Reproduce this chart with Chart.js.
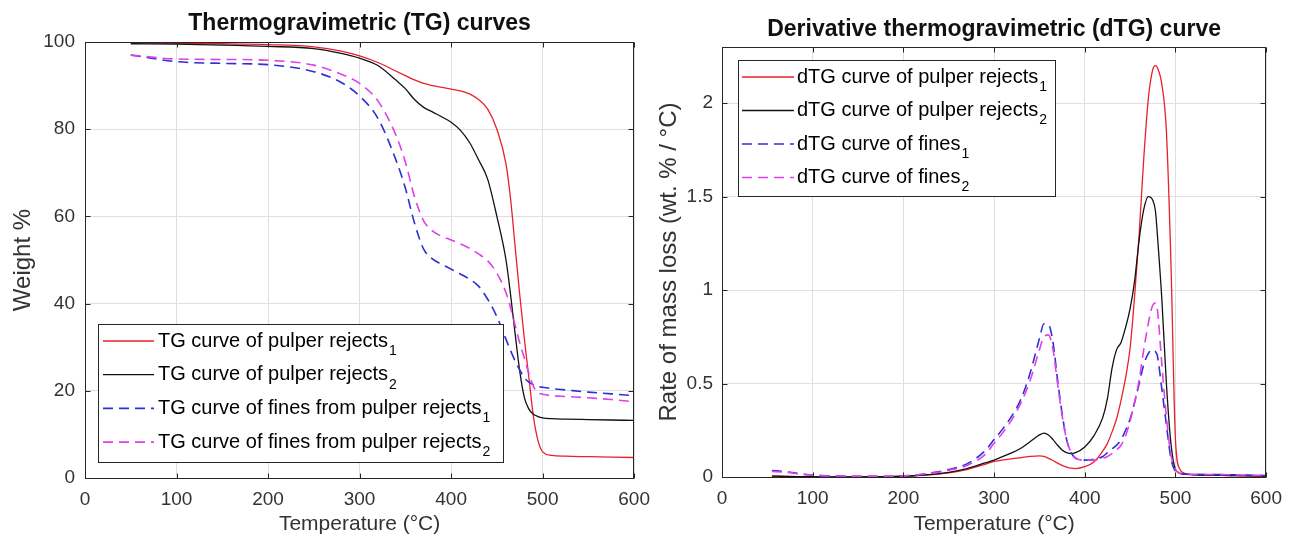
<!DOCTYPE html>
<html><head><meta charset="utf-8">
<script src="https://cdn.jsdelivr.net/npm/chart.js@4.4.1/dist/chart.umd.min.js"></script>
<style>
html,body{margin:0;padding:0;background:#fff;width:1292px;height:537px;overflow:hidden}
canvas{position:absolute;top:0}
#tg{left:0}
#dtg{left:646px}
</style></head><body>
<canvas id="tg" width="660" height="537"></canvas>
<canvas id="dtg" width="646" height="537"></canvas>
<script>
// ---------- TG data (Weight %) ----------
const tempTG = [50,100,150,200,250,280,300,320,340,350,360,370,380,390,400,410,420,430,440,450,460,465,470,475,480,485,490,495,500,510,525,550,575,600];
const tgRejects1 = [99.8,99.7,99.6,99.4,98.9,97.9,96.8,95.3,93.3,92.3,91.3,90.5,90.0,89.6,89.2,88.8,88.1,86.8,84.6,80.0,72.0,64.0,53.0,42.0,32.0,23.0,14.0,8.5,6.0,5.2,5.0,4.9,4.8,4.7];
const tgRejects2 = [99.6,99.5,99.3,99.0,98.5,97.4,96.3,94.6,91.2,89.3,86.8,85.0,83.9,82.8,81.6,79.8,77.0,73.0,68.5,60.0,50.0,42.0,33.0,24.5,18.5,15.8,14.6,14.1,13.8,13.6,13.5,13.4,13.3,13.2];
const tgFines1   = [97.0,95.5,95.1,94.8,93.2,90.7,87.6,82.5,72.8,66.5,58.5,52.5,50.2,49.0,47.9,46.8,45.6,44.0,41.0,37.0,31.8,29.2,26.8,24.8,23.0,22.0,21.4,21.0,20.8,20.5,20.2,19.7,19.3,18.9];
const tgFines2   = [97.0,96.1,96.0,95.8,94.7,92.6,90.5,86.5,78.5,72.5,64.5,59.0,56.6,55.4,54.6,53.7,52.7,51.4,49.8,47.0,42.5,39.0,35.0,31.0,27.5,24.0,21.0,19.6,19.2,18.9,18.7,18.4,18.0,17.5];

// ---------- dTG data (wt. % / °C) ----------
const tempDTG = [55,70,90,110,130,150,175,200,225,250,270,290,300,310,320,330,340,350,355,360,365,370,375,380,385,390,400,410,420,425,430,435,440,445,450,455,460,465,470,475,478,480,485,490,495,500,505,510,520,540,560,580,600];
const dtgRejects1 = [0.005,0.003,0.002,0.001,0.001,0.001,0.002,0.004,0.01,0.022, 0.04,0.068,0.083,0.092,0.098,0.104,0.11,0.113,0.11,0.1, 0.088,0.074,0.062,0.053,0.047,0.045,0.055,0.08,0.14,0.18, 0.24,0.31,0.41,0.53,0.69,0.97,1.3,1.7,2.02,2.18, 2.2,2.19,2.1,1.85,1.15,0.2,0.04,0.02,0.012,0.01, 0.008,0.006,0.005];
const dtgRejects2 = [0.005,0.003,0.002,0.001,0.001,0.001,0.002,0.004,0.012,0.025, 0.045,0.075,0.09,0.11,0.13,0.155,0.19,0.225,0.235,0.225, 0.2,0.17,0.145,0.13,0.125,0.13,0.16,0.22,0.32,0.42, 0.58,0.68,0.72,0.8,0.9,1.05,1.27,1.43,1.5,1.48, 1.42,1.3,0.95,0.5,0.18,0.04,0.02,0.015,0.012,0.01, 0.008,0.006,0.005];
const dtgFines1 = [0.035,0.028,0.015,0.008,0.005,0.004,0.004,0.006,0.018,0.04, 0.07,0.14,0.2,0.26,0.33,0.42,0.56,0.74,0.82,0.815, 0.72,0.52,0.34,0.2,0.13,0.1,0.09,0.095,0.11,0.13, 0.15,0.17,0.2,0.25,0.31,0.4,0.5,0.6,0.66,0.68, 0.67,0.65,0.47,0.28,0.1,0.03,0.018,0.015,0.014,0.013, 0.012,0.01,0.008];
const dtgFines2 = [0.03,0.025,0.014,0.007,0.005,0.004,0.004,0.006,0.016,0.036, 0.062,0.12,0.18,0.24,0.31,0.4,0.52,0.68,0.75,0.76, 0.68,0.5,0.33,0.2,0.13,0.1,0.09,0.09,0.1,0.11, 0.125,0.145,0.17,0.22,0.3,0.4,0.52,0.68,0.82,0.92, 0.93,0.9,0.6,0.32,0.12,0.04,0.02,0.016,0.014,0.013, 0.012,0.01,0.008];

// ---------- labels ----------
const tgTitle = 'Thermogravimetric (TG) curves';
const dtgTitle = 'Derivative thermogravimetric (dTG) curve';
const xTitle = 'Temperature (°C)';
const tgYTitle = 'Weight %';
const dtgYTitle = 'Rate of mass loss (wt. % / °C)';
const tgLabels = ['TG curve of pulper rejects','TG curve of pulper rejects','TG curve of fines from pulper rejects','TG curve of fines from pulper rejects'];
const dtgLabels = ['dTG curve of pulper rejects','dTG curve of pulper rejects','dTG curve of fines','dTG curve of fines'];
const labelSubs = ['1','2','1','2'];

const FONT = "'Liberation Sans', Arial, Helvetica, sans-serif";
const COLORS = ['#e8202a','#111111','#2f2fd6','#e040e8'];
const DASHED = [false,false,true,true];

function makeDatasets(labels, temps, seriesList) {
  return seriesList.map((vals, i) => ({
    label: labels[i] + labelSubs[i],
    data: temps.map((t, k) => ({x: t, y: vals[k]})),
    borderColor: COLORS[i],
    backgroundColor: COLORS[i],
    borderWidth: DASHED[i] ? 1.6 : 1.3,
    borderDash: DASHED[i] ? [10, 6] : [],
    pointRadius: 0,
    fill: false,
    cubicInterpolationMode: 'monotone',
    order: 4 - i
  }));
}

const boxLegend = {
  id: 'boxLegend',
  afterDatasetsDraw(chart, args, o) {
    if (!o || !o.labels) return;
    const ctx = chart.ctx;
    ctx.save();
    ctx.fillStyle = '#fff';
    ctx.fillRect(o.left, o.top, o.width, o.height);
    ctx.strokeStyle = '#262626'; ctx.lineWidth = 1;
    ctx.strokeRect(o.left + 0.5, o.top + 0.5, o.width - 1, o.height - 1);
    chart.data.datasets.forEach((ds, i) => {
      const cy = o.firstRow + i * o.rowGap;
      ctx.strokeStyle = ds.borderColor; ctx.lineWidth = ds.borderWidth;
      ctx.setLineDash(ds.borderDash || []);
      ctx.beginPath(); ctx.moveTo(o.sampleX, cy); ctx.lineTo(o.sampleX + o.sampleLen, cy); ctx.stroke();
      ctx.setLineDash([]);
      ctx.fillStyle = '#000'; ctx.textBaseline = 'middle'; ctx.textAlign = 'left';
      ctx.font = '20px ' + FONT;
      const tx = o.sampleX + o.sampleLen + o.textGap;
      ctx.fillText(o.labels[i], tx, cy);
      const w = ctx.measureText(o.labels[i]).width;
      ctx.font = '14px ' + FONT;
      ctx.fillText(labelSubs[i], tx + w + 1, cy + 10);
    });
    ctx.restore();
  }
};

const frame = {
  id: 'frame',
  afterDraw(chart) {
    const {ctx, chartArea: a} = chart;
    const xs = chart.scales.x, ys = chart.scales.y;
    ctx.save(); ctx.strokeStyle = '#262626'; ctx.lineWidth = 1; ctx.setLineDash([]);
    const L = Math.round(a.left) + 0.5, R = Math.round(a.right) - 0.5, T = Math.round(a.top) + 0.5, B = Math.round(a.bottom) + 0.5;
    ctx.strokeRect(L, T, R - L, B - T);
    ctx.beginPath();
    xs.ticks.forEach(t => { const p = Math.round(xs.getPixelForValue(t.value)) + 0.5; ctx.moveTo(p, B); ctx.lineTo(p, B - 5); ctx.moveTo(p, T); ctx.lineTo(p, T + 5); });
    ys.ticks.forEach(t => { const p = Math.round(ys.getPixelForValue(t.value)) + 0.5; ctx.moveTo(L, p); ctx.lineTo(L + 5, p); ctx.moveTo(R, p); ctx.lineTo(R - 5, p); });
    ctx.stroke(); ctx.restore();
  }
};

function makeChart(id, cfg) {
  return new Chart(document.getElementById(id), {
    type: 'line',
    data: {datasets: cfg.datasets},
    plugins: [boxLegend, frame],
    options: {
      responsive: false, animation: false, devicePixelRatio: 1,
      layout: {padding: {left: 0, top: 0, right: cfg.padRight, bottom: 0}},
      plugins: {
        legend: {display: false}, tooltip: {enabled: false},
        title: {display: true, fullSize: false, text: cfg.title, color: '#111', font: {family: FONT, size: 23, weight: 'bold'}, padding: cfg.titlePad},
        boxLegend: cfg.legend
      },
      scales: {
        x: {
          type: 'linear', min: 0, max: 600,
          ticks: {stepSize: 100, padding: 10, color: '#333', font: {family: FONT, size: 19}, maxRotation: 0, includeBounds: false},
          grid: {color: '#dfdfdf', drawTicks: false, lineWidth: 1},
          border: {display: false},
          title: {display: true, text: xTitle, color: '#333', font: {family: FONT, size: 21}, padding: {top: 0, bottom: 0}},
          afterFit(s) { s.height = cfg.xHeight; }
        },
        y: {
          type: 'linear', min: 0, max: cfg.yMax,
          ticks: {stepSize: cfg.yStep, padding: cfg.yTickPad, color: '#333', font: {family: FONT, size: 19}, includeBounds: false,
                  callback: v => String(Math.round(v * 100) / 100)},
          grid: {color: '#dfdfdf', drawTicks: false, lineWidth: 1},
          border: {display: false},
          title: {display: true, text: cfg.yTitle, color: '#333', font: {family: FONT, size: 24}, padding: {top: 9, bottom: 0}},
          afterFit(s) { s.width = cfg.yWidth; }
        }
      }
    }
  });
}

makeChart('tg', {
  datasets: makeDatasets(tgLabels, tempTG, [tgRejects1, tgRejects2, tgFines1, tgFines2]),
  title: tgTitle, titlePad: {top: 10, bottom: 4.4}, padRight: 23,
  yMax: 100, yStep: 20, yTitle: tgYTitle, yWidth: 85, xHeight: 59, yTickPad: 10,
  legend: {labels: tgLabels, left: 98, top: 324, width: 406, height: 139, firstRow: 341, rowGap: 33.7, sampleX: 103, sampleLen: 51, textGap: 4}
});

makeChart('dtg', {
  datasets: makeDatasets(dtgLabels, tempDTG, [dtgRejects1, dtgRejects2, dtgFines1, dtgFines2]),
  title: dtgTitle, titlePad: {top: 16, bottom: 3.4}, padRight: 16,
  yMax: 2.3, yStep: 0.5, yTitle: dtgYTitle, yWidth: 76, xHeight: 60, yTickPad: 9,
  legend: {labels: dtgLabels, left: 92, top: 60, width: 318, height: 137, firstRow: 77, rowGap: 33.5, sampleX: 96, sampleLen: 52, textGap: 3}
});
</script>
</body></html>
